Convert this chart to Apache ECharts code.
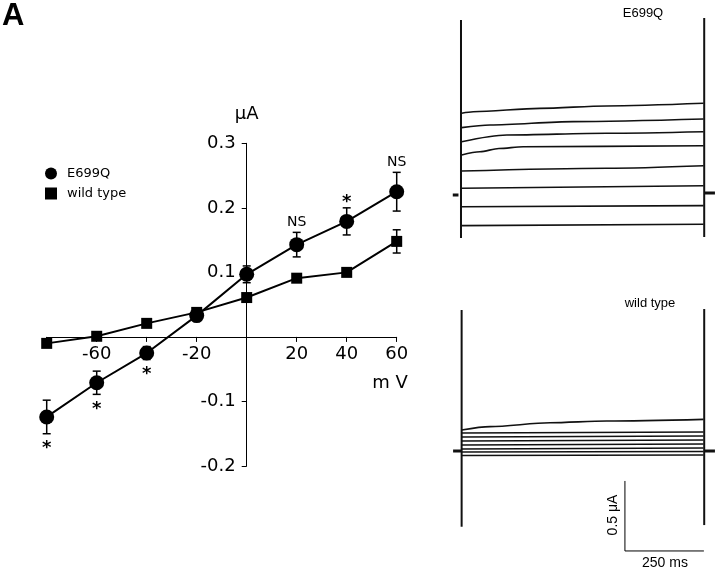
<!DOCTYPE html>
<html>
<head>
<meta charset="utf-8">
<script src="https://cdn.jsdelivr.net/npm/echarts@6/dist/echarts.min.js"></script>
<style>html,body{margin:0;padding:0;background:#fff}#c{width:720px;height:572px}</style>
</head>
<body>
<div id="c"></div>
<script>
// ---- I-V data (mV, µA) ----
const voltages = [-80, -60, -40, -20, 0, 20, 40, 60];
const e699qCurrent = [-0.124, -0.071, -0.025, 0.033, 0.097, 0.143, 0.179, 0.225];
const e699qError   = [0.026, 0.018, 0.010, 0.004, 0.013, 0.019, 0.021, 0.030];
const e699qSignif  = ['*', '*', '*', '', '', 'NS', '*', 'NS'];
const wtCurrent    = [-0.010, 0.001, 0.021, 0.038, 0.061, 0.091, 0.100, 0.148];
const wtError      = [0.004, 0.004, 0.004, 0.004, 0.004, 0.004, 0.004, 0.018];
const xTickLabels = {'-60': '-60', '-20': '-20', '20': '20', '40': '40', '60': '60'};
const yTickLabels = {'0.3': '0.3', '0.2': '0.2', '0.1': '0.1', '-0.1': '-0.1', '-0.2': '-0.2'};

// ---- current traces ([ms, µA]) ----
const e699qTraces = [
  [[2, 0.584], [39, 0.595], [250, 0.619], [461, 0.636], [768, 0.655]],
  [[2, 0.481], [92, 0.500], [355, 0.524], [768, 0.543]],
  [[2, 0.381], [145, 0.429], [461, 0.441], [768, 0.452]],
  [[2, 0.286], [60, 0.309], [120, 0.332], [197, 0.345], [768, 0.352]],
  [[2, 0.171], [461, 0.191], [768, 0.209]],
  [[2, 0.048], [768, 0.066]],
  [[2, -0.084], [768, -0.076]],
  [[2, -0.219], [768, -0.209]]
];
const e699qCapacitive = [
  [[0, 1.25], [0, -0.307]],
  [[770, 1.264], [770, -0.300]]
];
const e699qHolding = [
  [[-26, 0], [-8, 0]],
  [[772, 0.014], [804, 0.014]]
];
const wtTraces = [
  [[2, 0.150], [92, 0.174], [282, 0.202], [461, 0.214], [768, 0.226]],
  [[2, 0.129], [768, 0.136]],
  [[2, 0.100], [768, 0.107]],
  [[2, 0.071], [768, 0.079]],
  [[2, 0.043], [768, 0.050]],
  [[2, 0.014], [768, 0.021]],
  [[2, -0.007], [768, -0.004]],
  [[2, -0.032], [768, -0.029]]
];
const wtCapacitive = [
  [[2, 1.007], [2, -0.541]],
  [[770, 1.014], [770, -0.529]]
];
const wtHolding = [
  [[-25, 0], [0, 0]],
  [[769, 0], [804, 0]]
];
const scaleCurrent = 0.5;   // µA
const scaleTime = 250;      // ms
const scaleCorner = [519, -0.714];

const chart = echarts.init(document.getElementById('c'));
const IVFONT = 'DejaVu Sans';
const TRFONT = 'Liberation Sans';

function errorBarSeries(name, cur, err) {
  return {
    type: 'custom', xAxisIndex: 0, yAxisIndex: 0, z: 1, silent: true,
    data: voltages.map((v, i) => [v, cur[i], err[i]]),
    renderItem: function (params, api) {
      const x = api.value(0), y = api.value(1), e = api.value(2);
      const top = api.coord([x, y + e]), bot = api.coord([x, y - e]);
      const hw = 4;
      const st = {stroke: '#000', lineWidth: 1.5};
      return {type: 'group', children: [
        {type: 'line', shape: {x1: top[0], y1: top[1], x2: bot[0], y2: bot[1]}, style: st},
        {type: 'line', shape: {x1: top[0] - hw, y1: top[1], x2: top[0] + hw, y2: top[1]}, style: st},
        {type: 'line', shape: {x1: bot[0] - hw, y1: bot[1], x2: bot[0] + hw, y2: bot[1]}, style: st}
      ]};
    }
  };
}

function traceSeries(list, gi, width) {
  return list.map(d => ({
    type: 'line', xAxisIndex: gi, yAxisIndex: gi, data: d, showSymbol: false,
    smooth: 0.3, smoothMonotone: 'x', silent: true,
    lineStyle: {color: '#111', width: width}
  }));
}

const series = [
  errorBarSeries('E699Q err', e699qCurrent, e699qError),
  errorBarSeries('wt err', wtCurrent, wtError),
  {
    name: 'E699Q', type: 'line', xAxisIndex: 0, yAxisIndex: 0, z: 3,
    data: voltages.map((v, i) => [v, e699qCurrent[i]]),
    symbol: 'circle', symbolSize: 15, showAllSymbol: true,
    itemStyle: {color: '#000'}, lineStyle: {color: '#000', width: 2}
  },
  {
    name: 'wild type', type: 'line', xAxisIndex: 0, yAxisIndex: 0, z: 3,
    data: voltages.map((v, i) => [v, wtCurrent[i]]),
    symbol: 'rect', symbolSize: 11,
    itemStyle: {color: '#000'}, lineStyle: {color: '#000', width: 2}
  },
  {
    type: 'custom', xAxisIndex: 0, yAxisIndex: 0, z: 4, silent: true,
    data: voltages.map((v, i) => [v, e699qCurrent[i], e699qError[i], i]),
    renderItem: function (params, api) {
      const i = api.value(3);
      const txt = e699qSignif[i];
      if (!txt) return;
      const x = api.value(0), y = api.value(1), e = api.value(2);
      let p;
      if (y < 0) { p = api.coord([x, y - e]); p = [p[0], p[1] + 11]; }
      else { p = api.coord([x, y + e]); p = [p[0], p[1] - 10]; }
      const star = txt === '*';
      return {type: 'text', x: p[0], y: p[1] + (star ? 4 : 0), style: {
        text: txt, align: 'center', verticalAlign: 'middle',
        font: (star ? 'bold 18px ' : '14px ') + IVFONT, fill: '#000'
      }};
    }
  }
];
series.push(...traceSeries(e699qTraces, 1, 1.6));
series.push(...traceSeries(e699qCapacitive, 1, 2));
series.push(...traceSeries(e699qHolding, 1, 3));
series.push(...traceSeries(wtTraces, 2, 1.6));
series.push(...traceSeries(wtCapacitive, 2, 2));
series.push(...traceSeries(wtHolding, 2, 3));
series.push({
  type: 'line', xAxisIndex: 2, yAxisIndex: 2, showSymbol: false, silent: true,
  data: [[scaleCorner[0], scaleCorner[1] + scaleCurrent], scaleCorner, [scaleCorner[0] + scaleTime, scaleCorner[1]]],
  lineStyle: {color: '#000', width: 1}
});

const hiddenAxis = (min, max, gi) => ({
  type: 'value', gridIndex: gi, min: min, max: max, show: false, splitLine: {show: false}
});

// grid 0 geometry: x -80..60 over 350 px, y -0.2..0.3 over 322.7 px
const G0 = {left: 46.7, width: 350, top: 143.3, height: 322.7};
const xZeroOffset = -(G0.height * 0.2 / 0.5);   // move x axis up to y = 0
const yZeroOffset = -(G0.width * 80 / 140);     // move y axis right to x = 0

chart.setOption({
  animation: false,
  backgroundColor: '#fff',
  grid: [
    {left: G0.left, width: G0.width, top: G0.top, height: G0.height},
    {left: 445.2, right: 0, top: 13, bottom: 332.2},
    {left: 445.2, right: 0, top: 304, bottom: 9}
  ],
  xAxis: [
    {
      type: 'value', gridIndex: 0, min: -80, max: 60, interval: 20,
      position: 'bottom', offset: xZeroOffset,
      axisLine: {onZero: false, lineStyle: {color: '#000', width: 1}},
      axisTick: {show: true, length: 5, lineStyle: {color: '#000'}},
      splitLine: {show: false},
      axisLabel: {
        margin: 8, color: '#000', fontFamily: IVFONT, fontSize: 18,
        formatter: v => xTickLabels[String(v)] || ''
      }
    },
    hiddenAxis(-50, 820, 1),
    hiddenAxis(-50, 820, 2)
  ],
  yAxis: [
    {
      type: 'value', gridIndex: 0, min: -0.2, max: 0.3, interval: 0.1,
      position: 'left', offset: yZeroOffset,
      axisLine: {show: true, onZero: false, lineStyle: {color: '#000', width: 1}},
      axisTick: {show: true, length: 5, lineStyle: {color: '#000'}},
      splitLine: {show: false},
      name: 'μA', nameLocation: 'end', nameGap: 20,
      nameTextStyle: {color: '#000', fontFamily: IVFONT, fontSize: 18, align: 'center'},
      axisLabel: {
        margin: 11, color: '#000', fontFamily: IVFONT, fontSize: 18,
        formatter: v => yTickLabels[String(Math.round(v * 10) / 10)] || ''
      }
    },
    hiddenAxis(-0.32, 1.3, 1),
    hiddenAxis(-0.8, 1.05, 2)
  ],
  legend: {
    left: 40, top: 162, orient: 'vertical', itemGap: 7, itemWidth: 12, itemHeight: 12,
    data: [{name: 'E699Q', icon: 'circle'}, {name: 'wild type', icon: 'rect'}],
    textStyle: {color: '#000', fontFamily: IVFONT, fontSize: 13, padding: [0, 0, 0, 5]},
    selectedMode: false
  },
  graphic: [
    {type: 'text', x: 2, y: 1, style: {text: 'A', font: 'bold 31px ' + TRFONT, fill: '#000'}},
    {type: 'text', x: 390, y: 383, style: {text: 'm V', font: '18px ' + IVFONT, fill: '#000', align: 'center', verticalAlign: 'middle'}},
    {type: 'text', x: 643, y: 13, style: {text: 'E699Q', font: '13px ' + TRFONT, fill: '#000', align: 'center', verticalAlign: 'middle'}},
    {type: 'text', x: 650, y: 303, style: {text: 'wild type', font: '13px ' + TRFONT, fill: '#000', align: 'center', verticalAlign: 'middle'}},
    {type: 'text', x: 613, y: 515, rotation: Math.PI / 2, style: {text: '0.5 μA', font: '14px ' + TRFONT, fill: '#000', align: 'center', verticalAlign: 'middle'}},
    {type: 'text', x: 665, y: 563, style: {text: '250 ms', font: '14px ' + TRFONT, fill: '#000', align: 'center', verticalAlign: 'middle'}}
  ],
  series: series
});
</script>
</body>
</html>
